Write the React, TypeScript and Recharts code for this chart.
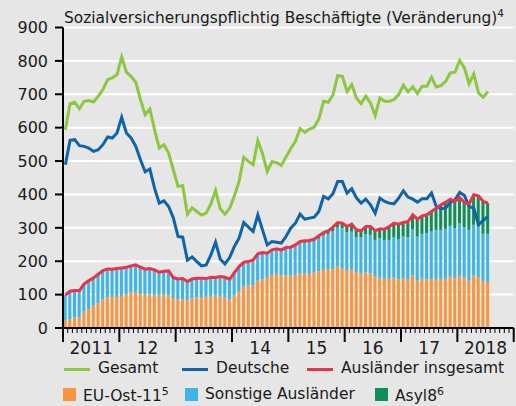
import { ComposedChart, Bar, Line, XAxis, YAxis, CartesianGrid } from "recharts";

// Sozialversicherungspflichtig Beschäftigte, Veränderung ggü. Vorjahr in Tsd., Jan 2011 – Jul 2018
const YEAR_LABELS = ["2011", "12", "13", "14", "15", "16", "17", "2018"];
const Y_TICKS = [0, 100, 200, 300, 400, 500, 600, 700, 800, 900];

const gesamt = [
  594, 672, 676, 657, 679, 681, 677, 694, 714, 744,
  749, 759, 812, 766, 754, 736, 684, 639, 656, 594,
  539, 549, 524, 474, 424, 426, 341, 360, 349, 338,
  344, 372, 412, 357, 341, 359, 395, 439, 511, 499,
  489, 561, 522, 469, 498, 496, 487, 512, 537, 559,
  597, 586, 596, 601, 626, 679, 676, 698, 756, 754,
  709, 729, 689, 672, 694, 674, 636, 689, 679, 679,
  684, 699, 727, 707, 722, 702, 724, 724, 751, 722,
  726, 739, 764, 766, 801, 779, 732, 761, 704, 691,
  708,
];

const deutsche = [
  489, 562, 564, 546, 544, 539, 529, 534, 549, 572,
  569, 584, 631, 584, 569, 544, 504, 468, 476, 419,
  374, 381, 364, 330, 274, 272, 203, 213, 199, 186,
  189, 219, 257, 206, 192, 211, 244, 269, 316, 302,
  289, 339, 294, 249, 259, 257, 254, 274, 299, 314,
  341, 326, 329, 332, 349, 394, 387, 402, 439, 439,
  404, 417, 390, 374, 386, 369, 344, 389, 379, 374,
  372, 389, 411, 392, 386, 377, 387, 387, 404, 364,
  357, 359, 376, 384, 406, 397, 364, 359, 309, 322,
  334,
];

const auslaender = [
  99, 110, 112, 112, 132, 142, 150, 161, 172, 177,
  176, 178, 180, 182, 186, 189, 182, 176, 178, 174,
  167, 170, 171, 151, 147, 148, 139, 147, 149, 149,
  148, 152, 151, 154, 152, 146, 166, 184, 197, 199,
  204, 222, 226, 224, 234, 237, 234, 241, 242, 249,
  259, 261, 262, 266, 276, 286, 291, 302, 316, 314,
  304, 311, 294, 291, 304, 304, 291, 297, 296, 304,
  314, 311, 316, 319, 339, 326, 336, 339, 349, 359,
  369, 376, 386, 379, 391, 376, 372, 399, 396, 379,
  374,
];

const euOst = [
  24, 26, 31, 31, 49, 57, 67, 74, 86, 91,
  93, 93, 96, 100, 106, 108, 102, 99, 101, 99,
  97, 99, 97, 89, 87, 86, 84, 89, 91, 91,
  94, 94, 97, 94, 91, 86, 97, 109, 124, 127,
  129, 142, 146, 152, 159, 162, 157, 158, 157, 159,
  164, 164, 162, 167, 170, 174, 176, 177, 184, 179,
  172, 176, 167, 164, 166, 164, 154, 151, 147, 148,
  151, 146, 148, 146, 157, 142, 148, 146, 147, 147,
  147, 147, 154, 148, 156, 151, 142, 157, 152, 141,
  138,
];

const sonstige = [
  75, 84, 81, 81, 83, 85, 83, 87, 86, 86,
  83, 85, 84, 82, 80, 81, 80, 77, 77, 75,
  70, 71, 74, 62, 60, 62, 55, 58, 58, 58,
  54, 58, 54, 60, 61, 60, 69, 75, 73, 72,
  75, 79, 79, 70, 73, 72, 74, 79, 81, 85,
  90, 91, 94, 92, 98, 103, 105, 113, 117, 120,
  114, 113, 105, 108, 115, 115, 110, 118, 115, 116,
  121, 120, 126, 126, 139, 132, 134, 138, 142, 147,
  147, 150, 152, 151, 158, 150, 152, 152, 154, 141,
  144,
];

const asyl = [
  0, 0, 0, 0, 0, 0, 0, 0, 0, 0,
  0, 0, 0, 0, 0, 0, 0, 0, 0, 0,
  0, 0, 0, 0, 0, 0, 0, 0, 0, 0,
  0, 0, 0, 0, 0, 0, 0, 0, 0, 0,
  0, 1, 1, 2, 2, 3, 3, 4, 4, 5,
  5, 6, 6, 7, 8, 9, 10, 12, 15, 15,
  18, 22, 22, 19, 23, 25, 27, 28, 34, 40,
  42, 45, 42, 47, 43, 52, 54, 55, 60, 65,
  75, 79, 80, 80, 77, 75, 78, 90, 90, 97,
  92,
];

const C = {
  bg: "#e6e6e6",
  gesamt: "#8dc63f",
  deutsche: "#0f63a8",
  auslaender: "#e8334a",
  euOst: "#f7963f",
  sonstige: "#3db6e6",
  asyl: "#0f8f57",
};

const FONT = "'DejaVu Sans', sans-serif";

// 12 Monate je Jahr, Achse läuft bis Dez 2018
const months = YEAR_LABELS.flatMap((_, yi) =>
  Array.from({ length: 12 }, (_, m) => `${2011 + yi}-${m + 1}`)
);

const data = months.map((m, i) => ({
  m,
  gesamt: gesamt[i] ?? null,
  deutsche: deutsche[i] ?? null,
  auslaender: auslaender[i] ?? null,
  euOst: euOst[i] ?? null,
  sonstige: sonstige[i] ?? null,
  asyl: asyl[i] ?? null,
}));

const W = 516;
const H = 406;
const LEFT = 63;
const RIGHT = 2.3;
const HALF = (W - LEFT - RIGHT) / months.length / 2;

function MonthTick(props: any) {
  const { x, y, payload } = props;
  const i = props.index ?? payload.index;
  const half = payload?.offset || HALF;
  const x0 = x - half;
  const major = i % 12 === 0;
  return (
    <g>
      <line x1={x0} x2={x0} y1={y} y2={y + (major ? 14 : 5)} stroke="#000" strokeWidth={major ? 2 : 1} />
      {i === months.length - 1 && (
        <line x1={x + half} x2={x + half} y1={y} y2={y + 14} stroke="#000" strokeWidth={2} />
      )}
      {i % 12 === 6 && (
        <text x={x0} y={y + 26} textAnchor="middle" fontSize={17} fontFamily={FONT} fill="#1a1a1a">
          {YEAR_LABELS[Math.floor(i / 12)]}
        </text>
      )}
    </g>
  );
}

function LegendLine({ left, color, label }: { left: number; color: string; label: string }) {
  return (
    <div style={{ position: "absolute", left, top: 358, height: 20, lineHeight: "20px", display: "flex", alignItems: "center" }}>
      <span style={{ display: "inline-block", width: 26, height: 3, background: color, marginRight: 8, marginTop: 2 }} />
      <span>{label}</span>
    </div>
  );
}

function LegendBox({ left, color, children }: { left: number; color: string; children: any }) {
  return (
    <div style={{ position: "absolute", left, top: 383.5, height: 20, lineHeight: "20px", display: "flex", alignItems: "center" }}>
      <span style={{ display: "inline-block", width: 13, height: 13, background: color, marginRight: 7, marginTop: 1 }} />
      <span>{children}</span>
    </div>
  );
}

export default function App() {
  return (
    <div
      style={{
        position: "absolute", left: 0, top: 0, width: W, height: H,
        background: C.bg, fontFamily: FONT, fontSize: 15.5, color: "#1a1a1a", overflow: "hidden",
      }}
    >
      <div style={{ position: "absolute", left: 64, top: 3, lineHeight: "20px", fontSize: 15.4, whiteSpace: "nowrap" }}>
        Sozialversicherungspflichtig Beschäftigte (Veränderung)
        <sup style={{ fontSize: 10.5, verticalAlign: "6px" }}>4</sup>
      </div>

      <ComposedChart
        width={W}
        height={H}
        data={data}
        margin={{ top: 27.5, right: RIGHT, left: 0, bottom: 48 }}
        barCategoryGap="13%"
        style={{ position: "absolute", left: 0, top: 0 }}
      >
        <CartesianGrid vertical={false} stroke="#ffffff" strokeWidth={2} />
        <XAxis
          dataKey="m"
          interval={0}
          height={30}
          tickLine={false}
          tickSize={0}
          tickMargin={0}
          axisLine={{ stroke: "#000", strokeWidth: 2 }}
          tick={<MonthTick />}
        />
        <YAxis
          width={LEFT}
          domain={[0, 900]}
          ticks={Y_TICKS}
          interval={0}
          tickSize={8}
          tickMargin={7}
          axisLine={{ stroke: "#000", strokeWidth: 2 }}
          tickLine={{ stroke: "#000", strokeWidth: 2 }}
          tick={{ fontSize: 16, fontFamily: FONT, fill: "#1a1a1a" }}
        />
        <Bar dataKey="euOst" stackId="a" fill={C.euOst} isAnimationActive={false} />
        <Bar dataKey="sonstige" stackId="a" fill={C.sonstige} isAnimationActive={false} />
        <Bar dataKey="asyl" stackId="a" fill={C.asyl} isAnimationActive={false} />
        <Line type="linear" dataKey="gesamt" stroke={C.gesamt} strokeWidth={3} dot={false} isAnimationActive={false} />
        <Line type="linear" dataKey="deutsche" stroke={C.deutsche} strokeWidth={3} dot={false} isAnimationActive={false} />
        <Line type="linear" dataKey="auslaender" stroke={C.auslaender} strokeWidth={3} dot={false} isAnimationActive={false} />
      </ComposedChart>

      <LegendLine left={64} color={C.gesamt} label="Gesamt" />
      <LegendLine left={182} color={C.deutsche} label="Deutsche" />
      <LegendLine left={307} color={C.auslaender} label="Ausländer insgesamt" />

      <LegendBox left={63} color={C.euOst}>
        EU-Ost-11<sup style={{ fontSize: 11, verticalAlign: "6px" }}>5</sup>
      </LegendBox>
      <LegendBox left={185} color={C.sonstige}>Sonstige Ausländer</LegendBox>
      <LegendBox left={375} color={C.asyl}>
        Asyl8<sup style={{ fontSize: 11, verticalAlign: "6px" }}>6</sup>
      </LegendBox>
    </div>
  );
}
